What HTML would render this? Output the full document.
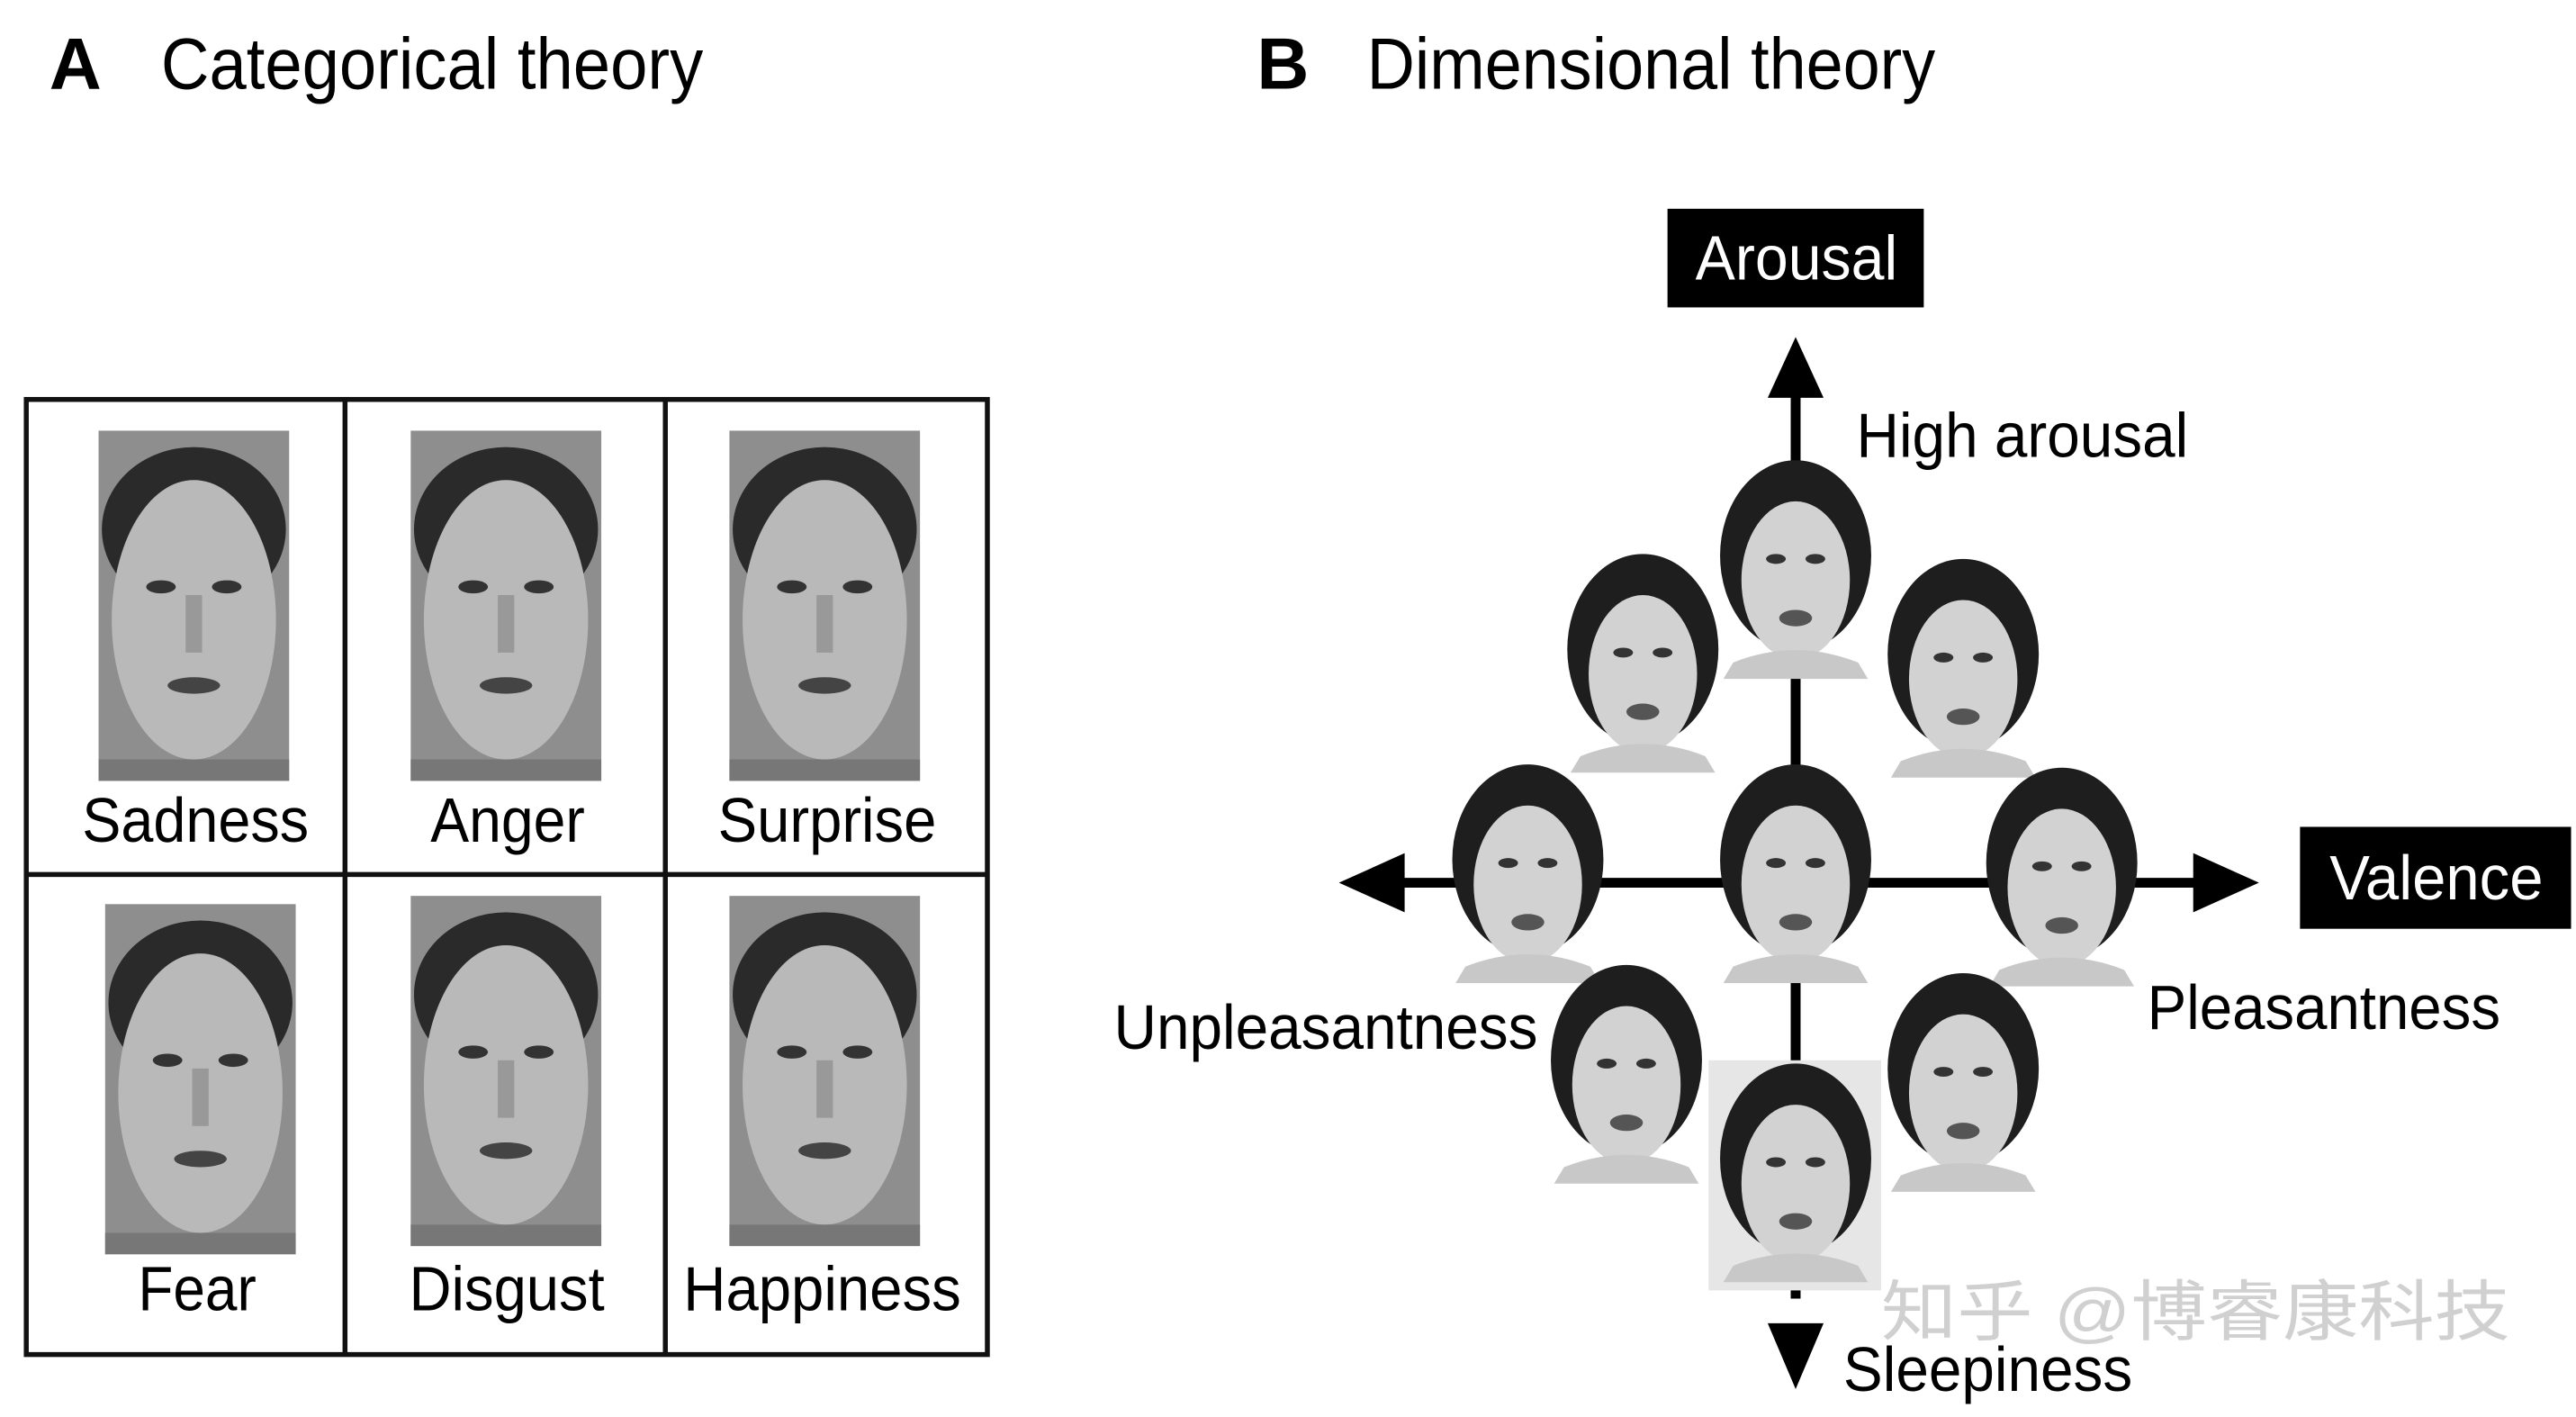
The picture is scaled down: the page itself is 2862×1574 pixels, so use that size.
<!DOCTYPE html>
<html><head><meta charset="utf-8"><style>
html,body{margin:0;padding:0;background:#fff;}
svg{display:block;}
text{font-family:"Liberation Sans","Noto Sans CJK SC",sans-serif;}
</style></head><body>
<svg width="2862" height="1574" viewBox="0 0 1568 862" preserveAspectRatio="none" xmlns="http://www.w3.org/2000/svg">
<defs>
<g id="man">
  <rect x="0" y="0" width="116" height="213" fill="#8e8e8e"/>
  <ellipse cx="58" cy="60" rx="56" ry="50" fill="#2a2a2a"/>
  <ellipse cx="58" cy="115" rx="50" ry="85" fill="#b9b9b9"/>
  <ellipse cx="38" cy="95" rx="9" ry="4" fill="#333"/>
  <ellipse cx="78" cy="95" rx="9" ry="4" fill="#333"/>
  <rect x="53" y="100" width="10" height="35" fill="#999"/>
  <ellipse cx="58" cy="155" rx="16" ry="5" fill="#444"/>
  <rect x="0" y="200" width="116" height="13" fill="#777"/>
</g>
<g id="woman">
  <ellipse cx="48" cy="60" rx="46" ry="58" fill="#1e1e1e"/>
  <ellipse cx="48" cy="75" rx="33" ry="48" fill="#d2d2d2"/>
  <ellipse cx="36" cy="62" rx="6" ry="3" fill="#333"/>
  <ellipse cx="60" cy="62" rx="6" ry="3" fill="#333"/>
  <ellipse cx="48" cy="98" rx="10" ry="5" fill="#555"/>
  <path d="M10 125 Q48 110 86 125 L92 135 L4 135 Z" fill="#c8c8c8"/>
</g>
</defs>

<text x="30" y="54" font-size="44" font-weight="bold">A</text>
<text x="98" y="54" font-size="44" textLength="330" lengthAdjust="spacingAndGlyphs">Categorical theory</text>
<text x="765" y="54" font-size="44" font-weight="bold">B</text>
<text x="832" y="54" font-size="44" textLength="346" lengthAdjust="spacingAndGlyphs">Dimensional theory</text>

<rect x="16" y="243" width="585" height="581" fill="none" stroke="#111" stroke-width="3"/>
<line x1="210" y1="243" x2="210" y2="824" stroke="#111" stroke-width="3"/>
<line x1="405" y1="243" x2="405" y2="824" stroke="#111" stroke-width="3"/>
<line x1="16" y1="532" x2="601" y2="532" stroke="#111" stroke-width="3"/>

<use href="#man" x="60" y="262"/>
<use href="#man" x="250" y="262"/>
<use href="#man" x="444" y="262"/>
<use href="#man" x="64" y="550"/>
<use href="#man" x="250" y="545"/>
<use href="#man" x="444" y="545"/>

<g font-size="38" lengthAdjust="spacingAndGlyphs">
<text x="50" y="512" textLength="138" lengthAdjust="spacingAndGlyphs">Sadness</text>
<text x="262" y="512" textLength="94" lengthAdjust="spacingAndGlyphs">Anger</text>
<text x="437" y="512" textLength="133" lengthAdjust="spacingAndGlyphs">Surprise</text>
<text x="84" y="797" textLength="72" lengthAdjust="spacingAndGlyphs">Fear</text>
<text x="249" y="797" textLength="119" lengthAdjust="spacingAndGlyphs">Disgust</text>
<text x="416" y="797" textLength="169" lengthAdjust="spacingAndGlyphs">Happiness</text>
</g>

<line x1="1093" y1="240" x2="1093" y2="790" stroke="#000" stroke-width="6"/>
<polygon points="1093,205 1076,242 1110,242" fill="#000"/>
<polygon points="1093,845 1076,805 1110,805" fill="#000"/>
<line x1="850" y1="537" x2="1340" y2="537" stroke="#000" stroke-width="6"/>
<polygon points="815,537 855,519 855,555" fill="#000"/>
<polygon points="1375,537 1335,519 1335,555" fill="#000"/>

<rect x="1015" y="127" width="156" height="60" fill="#000"/>
<text x="1032" y="170" font-size="38" fill="#fff" textLength="123" lengthAdjust="spacingAndGlyphs">Arousal</text>
<rect x="1400" y="503" width="165" height="62" fill="#000"/>
<text x="1418" y="547" font-size="38" fill="#fff" textLength="130" lengthAdjust="spacingAndGlyphs">Valence</text>

<text x="1130" y="278" font-size="38" textLength="202" lengthAdjust="spacingAndGlyphs">High arousal</text>
<text x="678" y="638" font-size="38" textLength="258" lengthAdjust="spacingAndGlyphs">Unpleasantness</text>
<text x="1307" y="626" font-size="38" textLength="215" lengthAdjust="spacingAndGlyphs">Pleasantness</text>
<text x="1122" y="846" font-size="38" textLength="176" lengthAdjust="spacingAndGlyphs">Sleepiness</text>

<rect x="1040" y="645" width="105" height="140" fill="#e6e6e6"/>
<use href="#woman" x="1045" y="278"/>
<use href="#woman" x="952" y="335"/>
<use href="#woman" x="1147" y="338"/>
<use href="#woman" x="882" y="463"/>
<use href="#woman" x="1045" y="463"/>
<use href="#woman" x="1207" y="465"/>
<use href="#woman" x="942" y="585"/>
<use href="#woman" x="1147" y="590"/>
<use href="#woman" x="1045" y="645"/>

<text x="1145" y="812" font-size="40" fill="#d0d0d0" textLength="383" lengthAdjust="spacingAndGlyphs">知乎 @博睿康科技</text>
</svg>
</body></html>
